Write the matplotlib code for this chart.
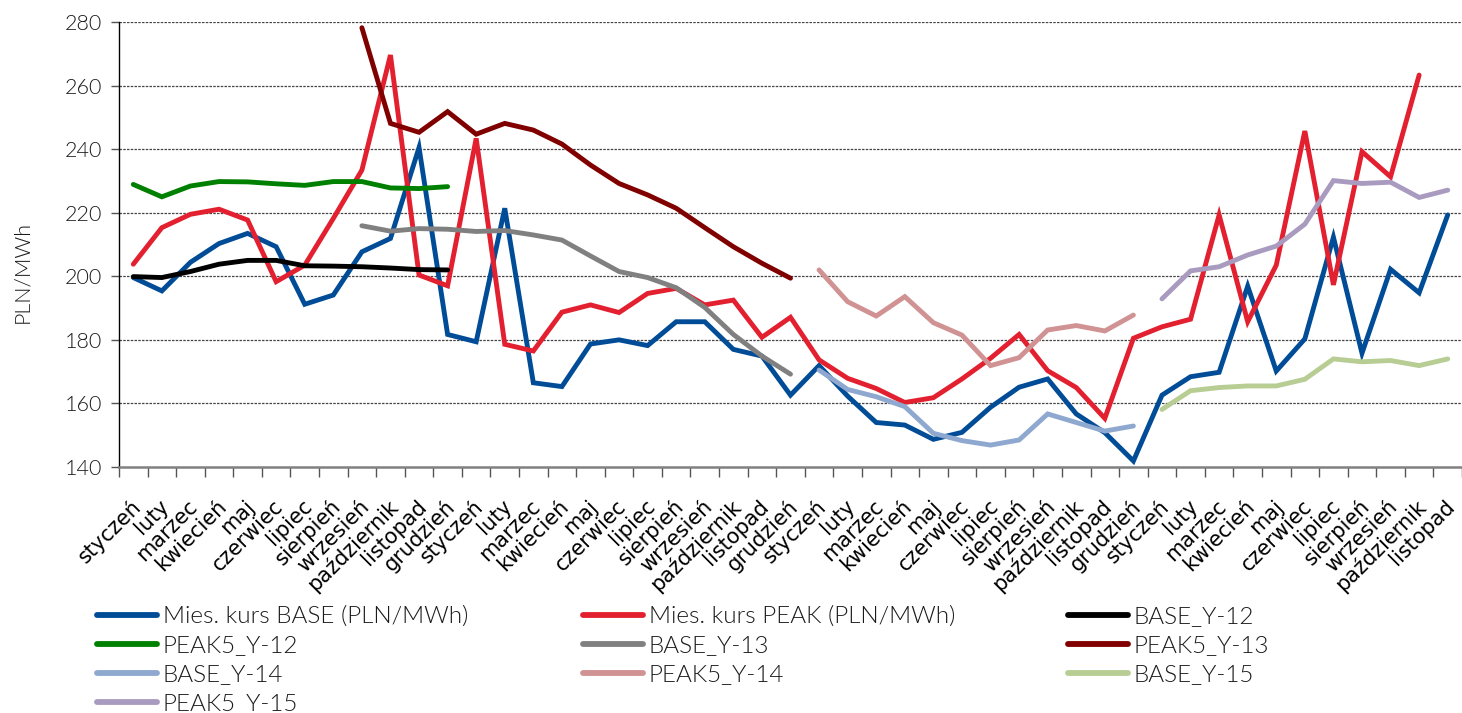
import numpy as np
import matplotlib
matplotlib.use("Agg")
import matplotlib.pyplot as plt
from matplotlib.lines import Line2D
from matplotlib.transforms import ScaledTranslation

nan = np.nan

months = ["styczeń", "luty", "marzec", "kwiecień", "maj", "czerwiec", "lipiec",
          "sierpień", "wrzesień", "październik", "listopad", "grudzień"]
categories = months * 3 + months[:11]

base_monthly = [199.6, 195.4, 204.4, 210.3, 213.5, 209.3, 191.2, 194.1, 207.7, 211.9, 240.5, 181.7,
                179.4, 221.4, 166.5, 165.3, 178.7, 180.0, 178.2, 185.7, 185.7, 177.0, 174.9, 162.6,
                171.9, 162.3, 154.0, 153.2, 148.7, 150.9, 158.8, 165.1, 167.7, 156.7, 150.8, 141.9,
                162.6, 168.4, 169.8, 196.9, 170.2, 180.3, 212.3, 175.8, 202.2, 194.8, 219.3]

peak_monthly = [203.8, 215.3, 219.5, 221.1, 217.7, 198.3, 203.5, 218.2, 233.4, 269.6, 200.4, 197.0,
                243.4, 178.6, 176.5, 188.7, 191.0, 188.6, 194.6, 196.2, 191.0, 192.5, 180.8, 187.1,
                173.7, 167.9, 164.7, 160.3, 161.8, 167.7, 174.2, 181.7, 170.3, 165.0, 155.3, 180.5,
                184.1, 186.5, 219.3, 185.7, 203.5, 245.7, 197.3, 239.2, 231.3, 263.3, nan]

base_y12 = [199.9, 199.6, 201.5, 203.8, 205.0, 205.0, 203.3, 203.2, 203.0, 202.6, 202.1, 202.0]
peak5_y12 = [228.9, 225.0, 228.4, 229.8, 229.7, 229.1, 228.6, 229.8, 229.8, 227.8, 227.6, 228.2]

base_y13 = [215.9, 214.2, 215.0, 214.8, 214.1, 214.4, 213.0, 211.4, 206.4, 201.5, 199.6, 196.4,
            190.2, 181.7, 174.9, 169.2]
peak5_y13 = [278.2, 248.1, 245.3, 251.8, 244.7, 248.1, 246.0, 241.6, 235.0, 229.2, 225.6, 221.4,
             215.3, 209.3, 204.1, 199.4]

base_y14 = [170.5, 164.4, 162.1, 159.0, 150.6, 148.3, 146.9, 148.5, 156.7, 154.0, 151.3, 152.9]
peak5_y14 = [202.0, 192.0, 187.5, 193.6, 185.4, 181.5, 171.9, 174.4, 183.1, 184.5, 182.8, 187.8]

base_y15 = [158.1, 164.0, 165.0, 165.5, 165.5, 167.6, 174.0, 173.1, 173.5, 171.9, 174.0]
peak5_y15 = [192.9, 201.7, 203.0, 206.7, 209.5, 216.4, 230.1, 229.2, 229.6, 224.8, 227.1]

y_ticks = [140, 160, 180, 200, 220, 240, 260, 280]

# (label, values, first category index, colour)
series = [
    ("Mies. kurs BASE (PLN/MWh)", base_monthly, 0, "#004C97"),
    ("Mies. kurs PEAK (PLN/MWh)", peak_monthly, 0, "#E3202F"),
    ("BASE_Y-12", base_y12, 0, "#000000"),
    ("PEAK5_Y-12", peak5_y12, 0, "#008000"),
    ("BASE_Y-13", base_y13, 8, "#808080"),
    ("PEAK5_Y-13", peak5_y13, 8, "#800000"),
    ("BASE_Y-14", base_y14, 24, "#8EA8D0"),
    ("PEAK5_Y-14", peak5_y14, 24, "#D09292"),
    ("BASE_Y-15", base_y15, 36, "#B7CD93"),
    ("PEAK5_Y-15", peak5_y15, 36, "#A99BBF"),
]

W, H = 1462, 713
fig = plt.figure(figsize=(W / 100, H / 100), dpi=100)
ax = fig.add_axes([119 / W, 1 - 467 / H, 1 - 119 / W, (467 - 22) / H])

light = dict(family="Lato", weight=300)
text_color = "#1a1a1a"

lines = {}
for label, vals, start, color in series:
    x = np.arange(start, start + len(vals))
    ln, = ax.plot(x, vals, color=color, lw=3.5, solid_capstyle="round",
                  solid_joinstyle="miter", label=label, zorder=3)
    lines[label] = ln

n = len(categories)
ax.set_xlim(-0.5, -0.5 + (W - 119) / 28.77)
ax.set_ylim(140, 280)

ax.set_yticks(y_ticks)
ax.set_yticklabels([str(v) for v in y_ticks], fontsize=15.5, color=text_color, **light)
ax.tick_params(axis="y", length=6, width=1, color="#555555", pad=6)

ax.set_xticks(np.arange(-0.5, n, 1.0))
ax.set_xticklabels([])
ax.tick_params(axis="x", which="major", length=7, width=1, color="#555555")
ax.set_xticks(np.arange(n), minor=True)
ax.set_xticklabels(categories, minor=True, rotation=45, ha="right", va="center",
                   rotation_mode="anchor", fontsize=15, family="DejaVu Sans",
                   color="#000000")
ax.tick_params(axis="x", which="minor", length=0, pad=26)
# nudge the slanted month names a little to the right
shift = ScaledTranslation(4 / 100, 0, fig.dpi_scale_trans)
for lbl in ax.get_xticklabels(minor=True):
    lbl.set_transform(lbl.get_transform() + shift)

for v in y_ticks[1:]:
    ax.axhline(v, color="#444444", lw=0.9, linestyle=(0, (2, 1)), zorder=1)

for side in ("top", "right"):
    ax.spines[side].set_visible(False)
ax.spines["left"].set_color("#000000")
ax.spines["left"].set_linewidth(1.0)
ax.spines["bottom"].set_color("#808080")
ax.spines["bottom"].set_linewidth(1.8)

fig.text(22 / W, 1 - 272 / H, "PLN/MWh", rotation=90, ha="center", va="center",
         fontsize=15.5, color=text_color, **light)

columns = [
    (97, ["Mies. kurs BASE (PLN/MWh)", "PEAK5_Y-12", "BASE_Y-14", "PEAK5_Y-15"]),
    (583, ["Mies. kurs PEAK (PLN/MWh)", "BASE_Y-13", "PEAK5_Y-14"]),
    (1068, ["BASE_Y-12", "PEAK5_Y-13", "BASE_Y-15"]),
]
for xpx, labels in columns:
    handles = [Line2D([], [], color=lines[l].get_color(), lw=4.2, solid_capstyle="round")
               for l in labels]
    leg = fig.legend(handles, labels, loc="upper left",
                     bbox_to_anchor=(xpx / W, 1 - 606 / H), frameon=False,
                     prop=dict(size=17.5, **light), handlelength=2.45, handletextpad=0.25,
                     labelspacing=0.33, borderpad=0, borderaxespad=0)
    for t in leg.get_texts():
        t.set_color(text_color)

fig.savefig("out.png", dpi=100)
